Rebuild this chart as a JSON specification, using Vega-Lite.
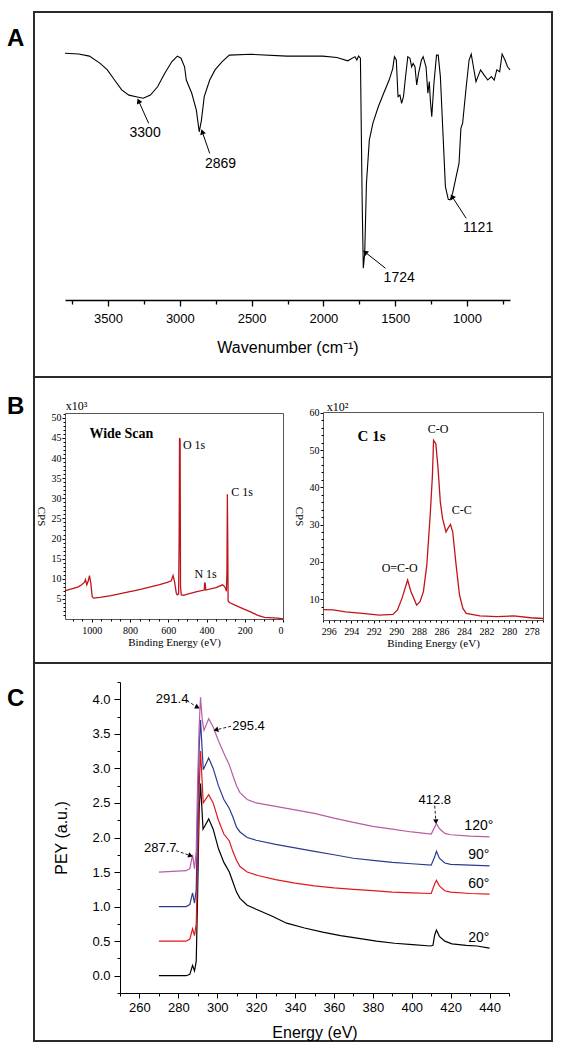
{
  "$schema": "https://vega.github.io/schema/vega-lite/v6.json",
  "padding": {"left": 6, "top": 11, "right": 0, "bottom": 0},
  "background": "white",
  "bounds": "flush",
  "spacing": 0,
  "config": {
    "view": {"stroke": "#2b2b2b", "strokeWidth": 2},
    "font": "Liberation Sans",
    "axis": {"grid": false, "domainColor": "#000", "tickColor": "#000", "labelColor": "#000", "titleColor": "#000", "titleFontWeight": "normal", "labelFont": "Liberation Sans", "titleFont": "Liberation Sans"},
    "title": {"font": "Liberation Sans", "fontSize": 24, "fontWeight": "bold", "color": "#000"}
  },
  "datasets": {
    "ftir": [
      {"wn":3800,"T":94.9},{"wn":3705,"T":94.6},{"wn":3630,"T":93.8},{"wn":3555,"T":91},{"wn":3505,"T":88.5},{"wn":3455,"T":84.6},{"wn":3405,"T":80.8},{"wn":3355,"T":78.8},{"wn":3305,"T":78.2},{"wn":3255,"T":77.6},{"wn":3205,"T":78.8},{"wn":3155,"T":82},{"wn":3105,"T":87.2},{"wn":3055,"T":91.7},{"wn":3017,"T":93.8},{"wn":2992,"T":93},{"wn":2967,"T":89.7},{"wn":2955,"T":84.6},{"wn":2917,"T":79.5},{"wn":2885,"T":73},{"wn":2865,"T":64.7},{"wn":2850,"T":69},{"wn":2830,"T":78.2},{"wn":2792,"T":84.6},{"wn":2755,"T":88.5},{"wn":2705,"T":91.7},{"wn":2655,"T":94.2},{"wn":2505,"T":94.5},{"wn":2255,"T":93.8},{"wn":2005,"T":93.8},{"wn":1905,"T":93.3},{"wn":1830,"T":92},{"wn":1780,"T":93.6},{"wn":1767,"T":92.3},{"wn":1755,"T":93.8},{"wn":1742,"T":93},{"wn":1730,"T":38.5},{"wn":1722,"T":12.2},{"wn":1712,"T":18},{"wn":1700,"T":44.9},{"wn":1680,"T":61.5},{"wn":1655,"T":68},{"wn":1617,"T":74.4},{"wn":1580,"T":79.5},{"wn":1542,"T":84.6},{"wn":1517,"T":89},{"wn":1505,"T":93.6},{"wn":1492,"T":92.3},{"wn":1480,"T":78.2},{"wn":1467,"T":78.8},{"wn":1455,"T":75.6},{"wn":1442,"T":78.2},{"wn":1430,"T":84.6},{"wn":1412,"T":93.6},{"wn":1397,"T":93},{"wn":1385,"T":89.7},{"wn":1375,"T":91},{"wn":1362,"T":89.7},{"wn":1350,"T":82.7},{"wn":1337,"T":87.2},{"wn":1317,"T":92.3},{"wn":1305,"T":93.6},{"wn":1285,"T":89.7},{"wn":1272,"T":79.5},{"wn":1262,"T":84},{"wn":1255,"T":76.9},{"wn":1245,"T":70.5},{"wn":1230,"T":83.3},{"wn":1212,"T":94.2},{"wn":1200,"T":94.2},{"wn":1185,"T":85.9},{"wn":1167,"T":64.1},{"wn":1150,"T":43.6},{"wn":1130,"T":38.7},{"wn":1117,"T":38.5},{"wn":1100,"T":41},{"wn":1080,"T":46.2},{"wn":1055,"T":52.6},{"wn":1042,"T":66},{"wn":1030,"T":68},{"wn":1005,"T":82},{"wn":985,"T":92.3},{"wn":970,"T":94.6},{"wn":955,"T":89.7},{"wn":937,"T":84},{"wn":905,"T":88.5},{"wn":880,"T":86.5},{"wn":855,"T":84.6},{"wn":830,"T":85.9},{"wn":810,"T":84.6},{"wn":792,"T":88.5},{"wn":772,"T":87.8},{"wn":755,"T":94.6},{"wn":735,"T":92.3},{"wn":717,"T":89.7},{"wn":700,"T":88.5}
    ],
    "ftir_notes": [
      {"text":"3300","x":3242,"y":64.4,"x1":3217,"y1":67.9,"x2":3285,"y2":76.3},
      {"text":"2869","x":2717,"y":52.3,"x1":2792,"y1":56.4,"x2":2842,"y2":64.4},
      {"text":"1724","x":1472,"y":8.3,"x1":1567,"y1":12.2,"x2":1705,"y2":18.2},
      {"text":"1121","x":922,"y":27.8,"x1":1005,"y1":31.4,"x2":1100,"y2":39.5}
    ],
    "wide": [
      {"be":1140,"cps":7.0},{"be":1120,"cps":7.3},{"be":1096,"cps":7.6},{"be":1070,"cps":8.0},{"be":1053,"cps":8.5},{"be":1039,"cps":9.1},{"be":1033,"cps":9.8},{"be":1026,"cps":8.5},{"be":1018,"cps":9.5},{"be":1012,"cps":10.8},{"be":1005,"cps":8.9},{"be":998,"cps":5.6},{"be":991,"cps":5.2},{"be":956,"cps":5.4},{"be":900,"cps":5.8},{"be":868,"cps":6.1},{"be":820,"cps":6.6},{"be":781,"cps":7.0},{"be":740,"cps":7.4},{"be":693,"cps":8.0},{"be":650,"cps":8.5},{"be":605,"cps":9.1},{"be":584,"cps":9.5},{"be":575,"cps":10.8},{"be":567,"cps":9.3},{"be":558,"cps":6.4},{"be":553,"cps":6.0},{"be":546,"cps":6.2},{"be":543,"cps":20},{"be":541,"cps":45},{"be":538,"cps":44.5},{"be":536,"cps":8},{"be":532,"cps":6.0},{"be":520,"cps":5.9},{"be":500,"cps":6.2},{"be":450,"cps":6.8},{"be":412,"cps":7.2},{"be":410,"cps":8.9},{"be":407,"cps":8.9},{"be":404,"cps":7.2},{"be":350,"cps":7.8},{"be":316,"cps":8.5},{"be":310,"cps":8.3},{"be":300,"cps":7.6},{"be":296,"cps":6.9},{"be":293,"cps":12},{"be":291,"cps":31},{"be":289,"cps":20},{"be":287,"cps":4.5},{"be":280,"cps":4.1},{"be":254,"cps":3.5},{"be":210,"cps":2.6},{"be":167,"cps":1.7},{"be":132,"cps":0.9},{"be":97,"cps":0.4},{"be":27,"cps":0.2},{"be":0,"cps":0}
    ],
    "wide_labels": [
      {"text":"Wide Scan","role":"heading","be":845,"cps":46},
      {"text":"O 1s","role":"peak","be":465,"cps":43.2},
      {"text":"C 1s","role":"peak","be":214,"cps":31.6},
      {"text":"N 1s","role":"peak","be":405,"cps":11.2},
      {"text":"x10³","role":"unit","be":1080,"cps":52.9}
    ],
    "c1s": [
      {"be":296.5,"cps":7.2},{"be":295.6,"cps":7.1},{"be":294.5,"cps":6.6},{"be":293,"cps":6.2},{"be":291.5,"cps":5.7},{"be":290.3,"cps":5.9},{"be":289.9,"cps":7.1},{"be":289.5,"cps":10.2},{"be":289.0,"cps":15.1},{"be":288.7,"cps":12},{"be":288.2,"cps":8.4},{"be":287.9,"cps":9.3},{"be":287.6,"cps":12},{"be":287.3,"cps":19.1},{"be":287.0,"cps":32.5},{"be":286.8,"cps":43.2},{"be":286.7,"cps":52.6},{"be":286.5,"cps":51.7},{"be":286.3,"cps":45},{"be":286.1,"cps":36},{"be":285.9,"cps":31.6},{"be":285.6,"cps":28},{"be":285.4,"cps":29.1},{"be":285.2,"cps":30},{"be":285.0,"cps":28},{"be":284.7,"cps":19.1},{"be":284.4,"cps":11.1},{"be":284.1,"cps":7.5},{"be":283.8,"cps":6.2},{"be":282.6,"cps":5.5},{"be":281.1,"cps":5.3},{"be":279.6,"cps":5.5},{"be":278.1,"cps":5.0},{"be":277.0,"cps":4.8}
    ],
    "c1s_labels": [
      {"text":"C 1s","role":"heading","be":292.2,"cps":53.8},
      {"text":"C-O","role":"peak","be":286.3,"cps":55.6},
      {"text":"C-C","role":"peak","be":284.2,"cps":33.9},
      {"text":"O=C-O","role":"peak","be":289.7,"cps":18.4},
      {"text":"x10²","role":"unit","be":295.2,"cps":61.5}
    ],
    "nexafs": [
      {"angle":"20°","E":270,"PEY":0},{"angle":"20°","E":284,"PEY":0},{"angle":"20°","E":285.9,"PEY":0.02},{"angle":"20°","E":287.3,"PEY":0.15},{"angle":"20°","E":288.3,"PEY":0.07},{"angle":"20°","E":289.2,"PEY":0.21},{"angle":"20°","E":289.9,"PEY":1.17},{"angle":"20°","E":290.7,"PEY":2.4},{"angle":"20°","E":291.4,"PEY":2.78},{"angle":"20°","E":292.7,"PEY":2.12},{"angle":"20°","E":295.6,"PEY":2.27},{"angle":"20°","E":297.9,"PEY":2.12},{"angle":"20°","E":300.6,"PEY":1.84},{"angle":"20°","E":303.4,"PEY":1.64},{"angle":"20°","E":306.2,"PEY":1.5},{"angle":"20°","E":308,"PEY":1.36},{"angle":"20°","E":309.9,"PEY":1.21},{"angle":"20°","E":311.7,"PEY":1.12},{"angle":"20°","E":315.4,"PEY":1.02},{"angle":"20°","E":320.9,"PEY":0.95},{"angle":"20°","E":328.3,"PEY":0.86},{"angle":"20°","E":335.7,"PEY":0.76},{"angle":"20°","E":344.9,"PEY":0.69},{"angle":"20°","E":354.2,"PEY":0.63},{"angle":"20°","E":363.4,"PEY":0.58},{"angle":"20°","E":372.7,"PEY":0.54},{"angle":"20°","E":381.9,"PEY":0.5},{"angle":"20°","E":391.1,"PEY":0.47},{"angle":"20°","E":400.4,"PEY":0.45},{"angle":"20°","E":409.6,"PEY":0.43},{"angle":"20°","E":410.9,"PEY":0.44},{"angle":"20°","E":411.8,"PEY":0.59},{"angle":"20°","E":412.7,"PEY":0.66},{"angle":"20°","E":414.2,"PEY":0.57},{"angle":"20°","E":417,"PEY":0.5},{"angle":"20°","E":420.7,"PEY":0.46},{"angle":"20°","E":428,"PEY":0.44},{"angle":"20°","E":433.6,"PEY":0.43},{"angle":"20°","E":440,"PEY":0.4},
      {"angle":"60°","E":270,"PEY":0.5},{"angle":"60°","E":284,"PEY":0.5},{"angle":"60°","E":285.9,"PEY":0.53},{"angle":"60°","E":287.3,"PEY":0.68},{"angle":"60°","E":288.3,"PEY":0.58},{"angle":"60°","E":289.2,"PEY":0.75},{"angle":"60°","E":289.9,"PEY":1.6},{"angle":"60°","E":290.7,"PEY":2.7},{"angle":"60°","E":291.4,"PEY":3.25},{"angle":"60°","E":292.8,"PEY":2.5},{"angle":"60°","E":295.6,"PEY":2.62},{"angle":"60°","E":297.9,"PEY":2.5},{"angle":"60°","E":300.6,"PEY":2.25},{"angle":"60°","E":303.4,"PEY":2.05},{"angle":"60°","E":306.2,"PEY":1.95},{"angle":"60°","E":308,"PEY":1.8},{"angle":"60°","E":309.9,"PEY":1.67},{"angle":"60°","E":311.7,"PEY":1.58},{"angle":"60°","E":315.4,"PEY":1.5},{"angle":"60°","E":320.9,"PEY":1.45},{"angle":"60°","E":330,"PEY":1.39},{"angle":"60°","E":340,"PEY":1.34},{"angle":"60°","E":350,"PEY":1.3},{"angle":"60°","E":360,"PEY":1.27},{"angle":"60°","E":370,"PEY":1.25},{"angle":"60°","E":380,"PEY":1.23},{"angle":"60°","E":390,"PEY":1.21},{"angle":"60°","E":400,"PEY":1.2},{"angle":"60°","E":410,"PEY":1.19},{"angle":"60°","E":411.8,"PEY":1.33},{"angle":"60°","E":412.7,"PEY":1.38},{"angle":"60°","E":414.2,"PEY":1.3},{"angle":"60°","E":417,"PEY":1.23},{"angle":"60°","E":420,"PEY":1.21},{"angle":"60°","E":430,"PEY":1.19},{"angle":"60°","E":440,"PEY":1.18},
      {"angle":"90°","E":270,"PEY":1.0},{"angle":"90°","E":284,"PEY":1.0},{"angle":"90°","E":285.9,"PEY":1.03},{"angle":"90°","E":287.3,"PEY":1.2},{"angle":"90°","E":288.3,"PEY":1.05},{"angle":"90°","E":289.2,"PEY":1.25},{"angle":"90°","E":289.9,"PEY":2.3},{"angle":"90°","E":290.7,"PEY":3.3},{"angle":"90°","E":291.4,"PEY":3.7},{"angle":"90°","E":292.8,"PEY":2.98},{"angle":"90°","E":295.6,"PEY":3.15},{"angle":"90°","E":297.9,"PEY":3.0},{"angle":"90°","E":300.6,"PEY":2.75},{"angle":"90°","E":303.4,"PEY":2.55},{"angle":"90°","E":306.2,"PEY":2.42},{"angle":"90°","E":308,"PEY":2.3},{"angle":"90°","E":309.9,"PEY":2.15},{"angle":"90°","E":311.7,"PEY":2.08},{"angle":"90°","E":315.4,"PEY":2.0},{"angle":"90°","E":320,"PEY":1.96},{"angle":"90°","E":330,"PEY":1.9},{"angle":"90°","E":340,"PEY":1.85},{"angle":"90°","E":350,"PEY":1.8},{"angle":"90°","E":360,"PEY":1.75},{"angle":"90°","E":370,"PEY":1.7},{"angle":"90°","E":380,"PEY":1.67},{"angle":"90°","E":390,"PEY":1.64},{"angle":"90°","E":400,"PEY":1.62},{"angle":"90°","E":410,"PEY":1.6},{"angle":"90°","E":411.8,"PEY":1.72},{"angle":"90°","E":412.7,"PEY":1.8},{"angle":"90°","E":414.2,"PEY":1.7},{"angle":"90°","E":417,"PEY":1.63},{"angle":"90°","E":420,"PEY":1.61},{"angle":"90°","E":430,"PEY":1.6},{"angle":"90°","E":440,"PEY":1.59},
      {"angle":"120°","E":270,"PEY":1.5},{"angle":"120°","E":284,"PEY":1.52},{"angle":"120°","E":285.9,"PEY":1.55},{"angle":"120°","E":287.3,"PEY":1.75},{"angle":"120°","E":288.3,"PEY":1.55},{"angle":"120°","E":289.2,"PEY":1.8},{"angle":"120°","E":289.9,"PEY":2.8},{"angle":"120°","E":290.7,"PEY":3.6},{"angle":"120°","E":291.4,"PEY":4.03},{"angle":"120°","E":292.3,"PEY":3.7},{"angle":"120°","E":293.2,"PEY":3.55},{"angle":"120°","E":295.6,"PEY":3.72},{"angle":"120°","E":297.9,"PEY":3.6},{"angle":"120°","E":300.6,"PEY":3.4},{"angle":"120°","E":303.4,"PEY":3.22},{"angle":"120°","E":306.2,"PEY":3.05},{"angle":"120°","E":308,"PEY":2.9},{"angle":"120°","E":309.9,"PEY":2.75},{"angle":"120°","E":311.7,"PEY":2.65},{"angle":"120°","E":315.4,"PEY":2.55},{"angle":"120°","E":320,"PEY":2.5},{"angle":"120°","E":330,"PEY":2.45},{"angle":"120°","E":340,"PEY":2.4},{"angle":"120°","E":350,"PEY":2.35},{"angle":"120°","E":360,"PEY":2.28},{"angle":"120°","E":370,"PEY":2.22},{"angle":"120°","E":380,"PEY":2.16},{"angle":"120°","E":390,"PEY":2.12},{"angle":"120°","E":400,"PEY":2.08},{"angle":"120°","E":410,"PEY":2.05},{"angle":"120°","E":411.8,"PEY":2.15},{"angle":"120°","E":412.7,"PEY":2.2},{"angle":"120°","E":414.2,"PEY":2.13},{"angle":"120°","E":417,"PEY":2.06},{"angle":"120°","E":420,"PEY":2.04},{"angle":"120°","E":430,"PEY":2.02},{"angle":"120°","E":440,"PEY":2.01}
    ],
    "nexafs_labels": [
      {"text":"120°","E":434.5,"PEY":2.17},
      {"text":"90°","E":434.5,"PEY":1.74},
      {"text":"60°","E":434.5,"PEY":1.32},
      {"text":"20°","E":434.5,"PEY":0.55}
    ],
    "nexafs_notes": [
      {"text":"291.4","x":276.8,"y":4.0,"x1":284.4,"y1":3.98,"x2":289.5,"y2":3.89},
      {"text":"295.4","x":316.1,"y":3.61,"x1":307.1,"y1":3.61,"x2":299.7,"y2":3.56},
      {"text":"412.8","x":411.8,"y":2.54,"x1":411.8,"y1":2.46,"x2":412.4,"y2":2.24},
      {"text":"287.7","x":270.7,"y":1.85,"x1":278.8,"y1":1.81,"x2":285.9,"y2":1.74}
    ]
  },
  "vconcat": [
    {
      "width": 518,
      "height": 365,
      "title": {"text": "A", "orient": "left", "anchor": "end", "angle": 0, "align": "center", "baseline": "middle", "offset": 1, "dy": 27},
      "layer": [
        {
          "data": {"name": "ftir"},
          "mark": {"type": "line", "color": "#000", "strokeWidth": 1.1},
          "encoding": {
            "x": {"field": "wn", "type": "quantitative", "scale": {"domain": [3800, 700], "range": [31, 476], "nice": false, "zero": false},
                  "axis": {"orient": "bottom", "offset": -77, "values": [3500, 3000, 2500, 2000, 1500, 1000], "format": "d", "tickSize": 6, "tickWidth": 1.3, "domainWidth": 1.3, "labelFontSize": 13, "labelPadding": 6, "title": "Wavenumber (cm⁻¹)", "titleFontSize": 16, "titlePadding": 14}},
            "y": {"field": "T", "type": "quantitative", "scale": {"domain": [0, 100], "range": [288, 28], "nice": false, "zero": false}, "axis": null}
          }
        },
        {
          "data": {"name": "ftir_notes"},
          "mark": {"type": "rule", "color": "#000", "strokeWidth": 1},
          "encoding": {
            "x": {"field": "x1", "type": "quantitative", "axis": null},
            "x2": {"field": "x2"},
            "y": {"field": "y1", "type": "quantitative", "axis": null},
            "y2": {"field": "y2"}
          }
        },
        {
          "data": {"name": "ftir_notes"},
          "mark": {"type": "point", "shape": "triangle", "filled": true, "color": "#000", "size": 35, "opacity": 1},
          "encoding": {
            "x": {"field": "x2", "type": "quantitative", "axis": null},
            "y": {"field": "y2", "type": "quantitative", "axis": null},
            "angle": {"condition": [{"test": "datum.text === '3300'", "value": 336}, {"test": "datum.text === '2869'", "value": 341}, {"test": "datum.text === '1724'", "value": 309}], "value": 327}
          }
        },
        {
          "data": {"name": "ftir_notes"},
          "mark": {"type": "text", "fontSize": 14, "color": "#000", "align": "center", "baseline": "middle"},
          "encoding": {
            "x": {"field": "x", "type": "quantitative", "axis": {"orient": "bottom", "offset": -77, "values": [3750, 3250, 2750, 2250, 1750, 1250, 750], "labels": false, "domain": false, "tickSize": 4, "tickWidth": 1.3, "title": null}},
            "y": {"field": "y", "type": "quantitative", "axis": null},
            "text": {"field": "text"}
          }
        }
      ],
      "resolve": {"axis": {"x": "independent", "y": "independent"}}
    },
    {
      "width": 518,
      "height": 286,
      "title": {"text": "B", "orient": "left", "anchor": "end", "angle": 0, "align": "center", "baseline": "middle", "offset": 1, "dy": 30},
      "layer": [
        {
          "layer": [
            {
              "data": {"name": "wide"},
              "mark": {"type": "line", "color": "#c0141c", "strokeWidth": 1.3},
              "encoding": {
                "x": {"field": "be", "type": "quantitative", "scale": {"domain": [1140, 0], "range": [31, 249], "nice": false, "zero": false},
                      "axis": {"orient": "bottom", "offset": -44, "values": [1000, 800, 600, 400, 200, 0], "format": "d", "tickSize": 3, "domainColor": "#555", "labelFont": "Liberation Serif", "labelFontSize": 10, "labelPadding": 3, "title": "Binding Energy (eV)", "titleFont": "Liberation Serif", "titleFontSize": 11, "titlePadding": 1}},
                "y": {"field": "cps", "type": "quantitative", "scale": {"domain": [0, 51.2], "range": [242, 36], "nice": false, "zero": false},
                      "axis": {"orient": "left", "offset": -31, "values": [5, 10, 15, 20, 25, 30, 35, 40, 45, 50], "tickSize": 3, "domainColor": "#555", "labelFont": "Liberation Serif", "labelFontSize": 10, "labelPadding": 1, "title": "CPS", "titleAngle": 90, "titleBaseline": "top", "titleFont": "Liberation Serif", "titleFontSize": 11, "titlePadding": 5}}
              }
            },
            {
              "data": {"name": "wide_labels"},
              "transform": [{"filter": "datum.role === 'peak'"}],
              "mark": {"type": "text", "font": "Liberation Serif", "fontSize": 12, "color": "#000"},
              "encoding": {
                "x": {"field": "be", "type": "quantitative", "axis": {"orient": "bottom", "offset": -44, "values": [1100, 1050, 950, 900, 850, 750, 700, 650, 550, 500, 450, 350, 300, 250, 150, 100, 50], "labels": false, "domain": false, "tickSize": 2, "title": null}},
                "y": {"field": "cps", "type": "quantitative", "axis": {"orient": "left", "offset": -31, "values": [1, 2, 3, 4, 6, 7, 8, 9, 11, 12, 13, 14, 16, 17, 18, 19, 21, 22, 23, 24, 26, 27, 28, 29, 31, 32, 33, 34, 36, 37, 38, 39, 41, 42, 43, 44, 46, 47, 48, 49, 51], "labels": false, "domain": false, "tickSize": 2, "title": null}},
                "text": {"field": "text"}
              }
            },
            {
              "data": {"name": "wide_labels"},
              "transform": [{"filter": "datum.role === 'heading'"}],
              "mark": {"type": "text", "font": "Liberation Serif", "fontSize": 14, "fontWeight": "bold", "color": "#000"},
              "encoding": {
                "x": {"field": "be", "type": "quantitative", "axis": {"orient": "top", "offset": -36, "labels": false, "ticks": false, "domainColor": "#555", "title": null}},
                "y": {"field": "cps", "type": "quantitative", "axis": {"orient": "right", "offset": -269, "labels": false, "ticks": false, "domainColor": "#555", "title": null}},
                "text": {"field": "text"}
              }
            },
            {
              "data": {"name": "wide_labels"},
              "transform": [{"filter": "datum.role === 'unit'"}],
              "mark": {"type": "text", "font": "Liberation Serif", "fontSize": 12, "color": "#000"},
              "encoding": {
                "x": {"field": "be", "type": "quantitative", "axis": null},
                "y": {"field": "cps", "type": "quantitative", "axis": null},
                "text": {"field": "text"}
              }
            }
          ],
          "resolve": {"axis": {"x": "independent", "y": "independent"}}
        },
        {
          "layer": [
            {
              "data": {"name": "c1s"},
              "mark": {"type": "line", "color": "#c0141c", "strokeWidth": 1.3},
              "encoding": {
                "x": {"field": "be", "type": "quantitative", "scale": {"domain": [296.5, 277], "range": [289, 509], "nice": false, "zero": false},
                      "axis": {"orient": "bottom", "offset": -43, "values": [296, 294, 292, 290, 288, 286, 284, 282, 280, 278], "tickSize": 3, "domainColor": "#555", "labelFont": "Liberation Serif", "labelFontSize": 10, "labelPadding": 3, "title": "Binding Energy (eV)", "titleFont": "Liberation Serif", "titleFontSize": 11, "titlePadding": 1}},
                "y": {"field": "cps", "type": "quantitative", "scale": {"domain": [4.4, 60.2], "range": [243, 35], "nice": false, "zero": false},
                      "axis": {"orient": "left", "offset": -289, "values": [10, 20, 30, 40, 50, 60], "tickSize": 3, "domainColor": "#555", "labelFont": "Liberation Serif", "labelFontSize": 10, "labelPadding": 1, "title": "CPS", "titleAngle": 90, "titleBaseline": "top", "titleFont": "Liberation Serif", "titleFontSize": 11, "titlePadding": 5}}
              }
            },
            {
              "data": {"name": "c1s_labels"},
              "transform": [{"filter": "datum.role === 'peak'"}],
              "mark": {"type": "text", "font": "Liberation Serif", "fontSize": 12, "color": "#000"},
              "encoding": {
                "x": {"field": "be", "type": "quantitative", "axis": {"orient": "bottom", "offset": -43, "values": [296.5, 295.5, 295, 294.5, 293.5, 293, 292.5, 291.5, 291, 290.5, 289.5, 289, 288.5, 287.5, 287, 286.5, 285.5, 285, 284.5, 283.5, 283, 282.5, 281.5, 281, 280.5, 279.5, 279, 278.5, 277.5, 277], "labels": false, "domain": false, "tickSize": 2, "title": null}},
                "y": {"field": "cps", "type": "quantitative", "axis": {"orient": "left", "offset": -289, "values": [6, 8, 12, 14, 16, 18, 22, 24, 26, 28, 32, 34, 36, 38, 42, 44, 46, 48, 52, 54, 56, 58], "labels": false, "domain": false, "tickSize": 2, "title": null}},
                "text": {"field": "text"}
              }
            },
            {
              "data": {"name": "c1s_labels"},
              "transform": [{"filter": "datum.role === 'heading'"}],
              "mark": {"type": "text", "font": "Liberation Serif", "fontSize": 15, "fontWeight": "bold", "color": "#000"},
              "encoding": {
                "x": {"field": "be", "type": "quantitative", "axis": {"orient": "top", "offset": -35, "labels": false, "ticks": false, "domainColor": "#555", "title": null}},
                "y": {"field": "cps", "type": "quantitative", "axis": {"orient": "right", "offset": -9, "labels": false, "ticks": false, "domainColor": "#555", "title": null}},
                "text": {"field": "text"}
              }
            },
            {
              "data": {"name": "c1s_labels"},
              "transform": [{"filter": "datum.role === 'unit'"}],
              "mark": {"type": "text", "font": "Liberation Serif", "fontSize": 12, "color": "#000"},
              "encoding": {
                "x": {"field": "be", "type": "quantitative", "axis": null},
                "y": {"field": "cps", "type": "quantitative", "axis": null},
                "text": {"field": "text"}
              }
            }
          ],
          "resolve": {"axis": {"x": "independent", "y": "independent"}}
        }
      ],
      "resolve": {"scale": {"x": "independent", "y": "independent"}, "axis": {"x": "independent", "y": "independent"}}
    },
    {
      "width": 518,
      "height": 378,
      "title": {"text": "C", "orient": "left", "anchor": "end", "angle": 0, "align": "center", "baseline": "middle", "offset": 1, "dy": 36},
      "layer": [
        {
          "data": {"name": "nexafs"},
          "mark": {"type": "line", "strokeWidth": 1.2},
          "encoding": {
            "x": {"field": "E", "type": "quantitative", "scale": {"domain": [250, 450], "range": [86, 475], "nice": false, "zero": false},
                  "axis": {"orient": "bottom", "offset": -48, "values": [260, 280, 300, 320, 340, 360, 380, 400, 420, 440], "tickSize": 5, "labelFontSize": 13, "labelPadding": 3, "title": "Energy (eV)", "titleFontSize": 16, "titlePadding": 10}},
            "y": {"field": "PEY", "type": "quantitative", "scale": {"domain": [-0.25, 4.25], "range": [330, 19], "nice": false, "zero": false},
                  "axis": {"orient": "left", "offset": -86, "values": [0, 0.5, 1, 1.5, 2, 2.5, 3, 3.5, 4], "format": ".1f", "tickSize": 6, "labelFontSize": 13, "labelPadding": 4, "title": "PEY (a.u.)", "titleFontSize": 16, "titlePadding": 22}},
            "color": {"field": "angle", "type": "nominal", "scale": {"domain": ["20°", "60°", "90°", "120°"], "range": ["#000000", "#e3171b", "#2c3a93", "#b85ca6"]}, "legend": null}
          }
        },
        {
          "data": {"name": "nexafs_labels"},
          "mark": {"type": "text", "fontSize": 14, "color": "#000"},
          "encoding": {
            "x": {"field": "E", "type": "quantitative", "axis": {"orient": "bottom", "offset": -48, "values": [250, 270, 290, 310, 330, 350, 370, 390, 410, 430, 450], "labels": false, "domain": false, "tickSize": 3, "title": null}},
            "y": {"field": "PEY", "type": "quantitative", "axis": {"orient": "left", "offset": -86, "values": [-0.25, 0.25, 0.75, 1.25, 1.75, 2.25, 2.75, 3.25, 3.75, 4.25], "labels": false, "domain": false, "tickSize": 3, "title": null}},
            "text": {"field": "text"}
          }
        },
        {
          "data": {"name": "nexafs_notes"},
          "mark": {"type": "rule", "color": "#222", "strokeWidth": 1, "strokeDash": [3, 2]},
          "encoding": {
            "x": {"field": "x1", "type": "quantitative", "axis": null},
            "x2": {"field": "x2"},
            "y": {"field": "y1", "type": "quantitative", "axis": null},
            "y2": {"field": "y2"}
          }
        },
        {
          "data": {"name": "nexafs_notes"},
          "mark": {"type": "point", "shape": "triangle", "filled": true, "color": "#000", "size": 30, "opacity": 1},
          "encoding": {
            "x": {"field": "x2", "type": "quantitative", "axis": null},
            "y": {"field": "y2", "type": "quantitative", "axis": null},
            "angle": {"condition": [{"test": "datum.text === '291.4'", "value": 119}, {"test": "datum.text === '295.4'", "value": 254}, {"test": "datum.text === '412.8'", "value": 176}], "value": 110}
          }
        },
        {
          "data": {"name": "nexafs_notes"},
          "mark": {"type": "text", "fontSize": 13, "color": "#000"},
          "encoding": {
            "x": {"field": "x", "type": "quantitative", "axis": null},
            "y": {"field": "y", "type": "quantitative", "axis": null},
            "text": {"field": "text"}
          }
        }
      ],
      "resolve": {"axis": {"x": "independent", "y": "independent"}}
    }
  ]
}
